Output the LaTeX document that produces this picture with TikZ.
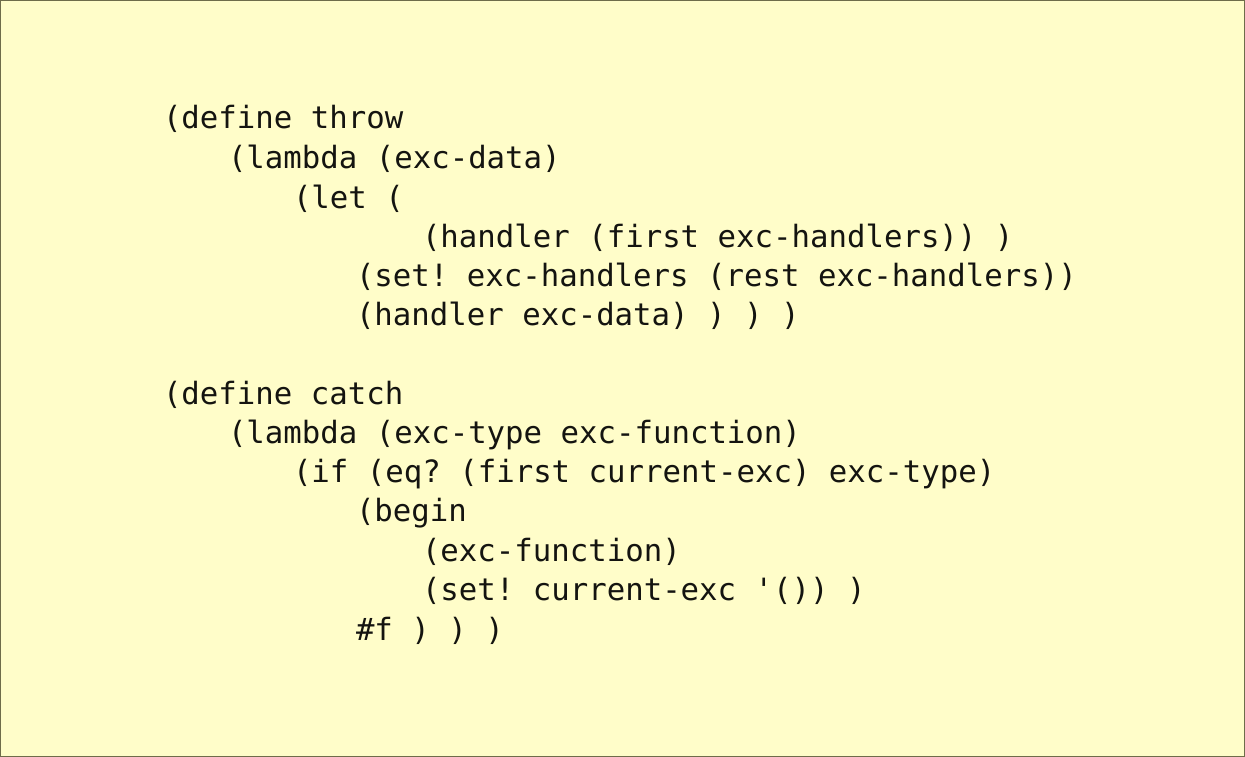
\documentclass[tikz,border=0pt]{standalone}
\usepackage{fontspec}
\setmonofont{DejaVu Sans Mono}
\definecolor{bg}{HTML}{FFFDC9}
\definecolor{frame}{HTML}{6E6C4A}
\definecolor{ink}{HTML}{141410}
\tikzset{
  code/.style={anchor=base west, inner sep=0pt, outer sep=0pt, text=ink,
    font=\ttfamily\fontsize{30.7pt}{36pt}\selectfont}
}
\begin{document}
\begin{tikzpicture}[x=1pt,y=-1pt]
\useasboundingbox (0,0) rectangle (1245,757);
\fill[bg] (0,0) rectangle (1245,757);
\draw[frame, line width=2pt] (0,0) rectangle (1245,757);
% throw
\node[code] (t1) at (163,129) {(define throw};
\node[code] (t2) at (228,168) {(lambda (exc-data)};
\node[code] (t3) at (293,208) {(let (};
\node[code] (t4) at (422,247) {(handler (first exc-handlers)) )};
\node[code] (t5) at (356,286) {(set! exc-handlers (rest exc-handlers))};
\node[code] (t6) at (356,325) {(handler exc-data) ) ) )};
% catch
\node[code] (c1) at (163,404) {(define catch};
\node[code] (c2) at (228,443) {(lambda (exc-type exc-function)};
\node[code] (c3) at (293,482) {(if (eq? (first current-exc) exc-type)};
\node[code] (c4) at (356,521) {(begin};
\node[code] (c5) at (422,561) {(exc-function)};
\node[code] (c6) at (422,600) {(set! current-exc '()) )};
\node[code] (c7) at (356,640) {\#f ) ) )};
\end{tikzpicture}
\end{document}
